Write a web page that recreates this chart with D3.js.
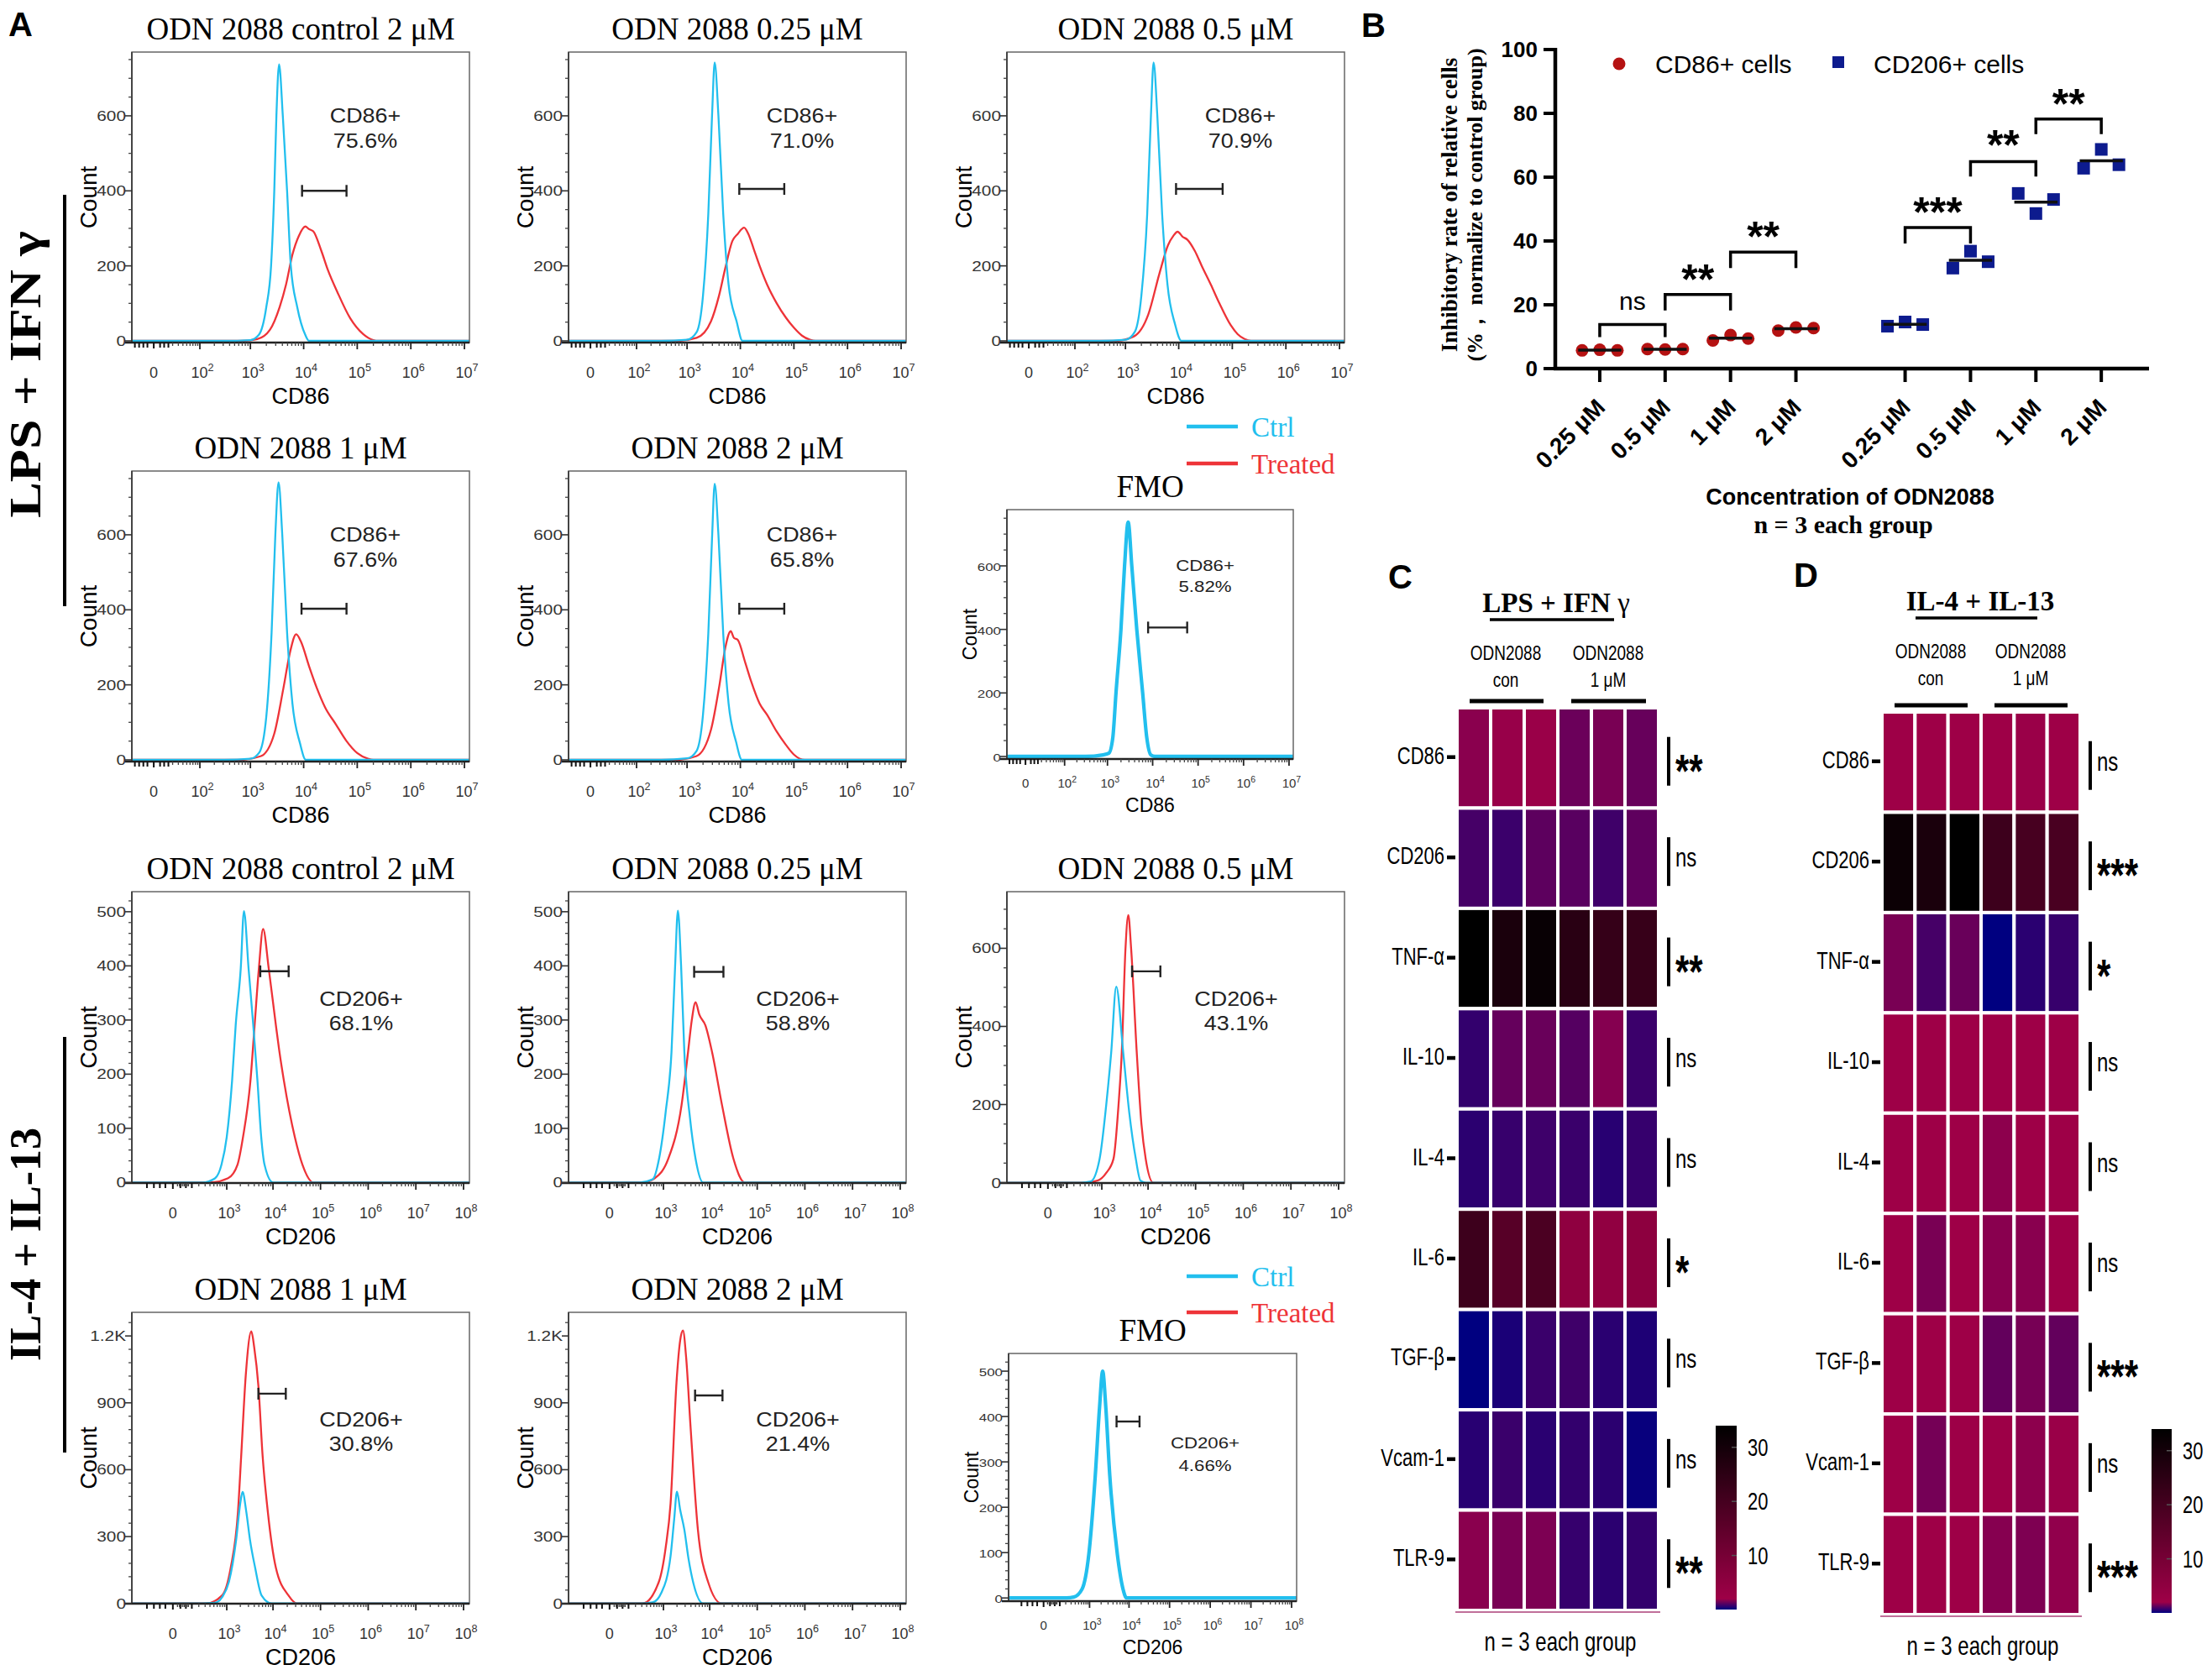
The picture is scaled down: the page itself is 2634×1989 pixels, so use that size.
<!DOCTYPE html>
<html><head><meta charset="utf-8">
<script src="https://cdn.jsdelivr.net/npm/d3@7"></script>
<style>body{margin:0;background:#fff}svg{display:block}</style>
</head><body>
<script>
// ===================== DATA =====================
// Panel A: flow histograms, points = [log10 fluorescence, count]
const ctrl_r1c1 = [[2.5,0],[3.0,2],[3.16,16],[3.3,90],[3.39,200],[3.45,400],[3.49,600],[3.54,737],[3.61,600],[3.69,400],[3.76,200],[3.88,90],[4.03,16],[4.1,0]];
const trt_r1c1  = [[2.8,0],[3.13,5],[3.37,30],[3.55,90],[3.67,150],[3.79,230],[3.91,280],[4.03,305],[4.1,298],[4.18,292],[4.33,240],[4.45,190],[4.63,130],[4.87,60],[5.11,18],[5.3,2],[5.4,0]];
const ctrl_r1c2 = [[2.5,0],[3.0,3],[3.18,23],[3.3,120],[3.4,338],[3.47,600],[3.52,742],[3.59,600],[3.68,338],[3.78,150],[3.93,52],[4.04,0]];
const trt_r1c2  = [[2.8,0],[3.18,8],[3.45,52],[3.6,120],[3.72,195],[3.85,266],[3.95,285],[4.07,302],[4.15,285],[4.25,245],[4.36,200],[4.5,150],[4.68,100],[4.85,62],[5.0,35],[5.15,14],[5.3,3],[5.4,0]];
const ctrl_r1c3 = [[2.5,0],[3.0,3],[3.18,25],[3.3,120],[3.41,338],[3.48,600],[3.53,742],[3.6,600],[3.69,338],[3.79,150],[3.93,45],[4.05,0]];
const trt_r1c3  = [[2.8,0],[3.16,12],[3.43,70],[3.64,180],[3.8,255],[3.9,280],[3.98,291],[4.07,278],[4.16,270],[4.3,240],[4.43,200],[4.6,150],[4.76,100],[4.97,42],[5.1,18],[5.23,5],[5.35,0]];
const ctrl_r2c1 = [[2.5,0],[3.0,3],[3.17,20],[3.3,115],[3.4,340],[3.47,600],[3.53,740],[3.6,600],[3.69,340],[3.79,150],[3.93,45],[4.04,0]];
const trt_r2c1  = [[2.8,0],[3.2,10],[3.45,70],[3.62,190],[3.75,290],[3.86,335],[3.95,315],[4.1,250],[4.25,190],[4.4,140],[4.6,95],[4.8,50],[5.0,18],[5.2,3],[5.3,0]];
const ctrl_r2c2 = [[2.5,0],[3.0,4],[3.18,24],[3.3,120],[3.4,336],[3.47,590],[3.52,736],[3.59,600],[3.68,336],[3.78,150],[3.92,48],[4.03,0]];
const trt_r2c2  = [[2.8,0],[3.18,10],[3.45,80],[3.61,200],[3.72,300],[3.82,343],[3.88,325],[3.95,320],[4.09,260],[4.2,210],[4.36,150],[4.5,120],[4.68,75],[4.85,40],[5.0,14],[5.2,0]];
const fmo_cd86  = [[2.5,0],[2.9,5],[3.03,10],[3.12,60],[3.19,200],[3.3,400],[3.38,600],[3.46,738],[3.54,600],[3.65,400],[3.78,200],[3.87,60],[3.96,5],[4.05,0]];
const ctrl_r3c1 = [[2.4,0],[2.73,8],[2.88,33],[3.0,84],[3.12,188],[3.2,291],[3.31,395],[3.38,501],[3.48,395],[3.58,291],[3.67,188],[3.75,84],[3.82,33],[4.0,0]];
const trt_r3c1  = [[2.6,0],[3.03,8],[3.24,33],[3.36,84],[3.52,188],[3.61,291],[3.7,395],[3.79,468],[3.91,395],[4.06,291],[4.13,245],[4.23,188],[4.46,84],[4.62,33],[4.85,0]];
const ctrl_r3c2 = [[2.4,0],[2.75,6],[2.9,44],[3.05,130],[3.18,241],[3.26,400],[3.32,502],[3.39,400],[3.46,241],[3.58,120],[3.7,44],[3.86,0]];
const trt_r3c2  = [[2.5,0],[2.8,8],[3.11,44],[3.4,143],[3.54,241],[3.62,300],[3.7,333],[3.78,310],[3.91,290],[4.05,241],[4.26,143],[4.5,44],[4.74,0]];
const ctrl_r3c3 = [[2.5,0],[2.74,3],[2.95,61],[3.1,200],[3.21,334],[3.32,502],[3.47,334],[3.6,180],[3.74,61],[3.84,5],[3.95,0]];
const trt_r3c3  = [[2.6,0],[2.9,5],[3.1,25],[3.26,61],[3.37,200],[3.44,334],[3.52,600],[3.58,685],[3.64,600],[3.76,334],[3.86,150],[3.95,61],[4.11,0]];
const ctrl_r4c1 = [[2.4,0],[2.72,3],[2.9,30],[3.05,98],[3.21,286],[3.3,450],[3.35,500],[3.43,412],[3.51,286],[3.62,161],[3.76,35],[3.97,0]];
const trt_r4c1  = [[2.5,0],[2.89,35],[3.09,161],[3.25,412],[3.32,662],[3.42,1026],[3.54,1221],[3.6,1150],[3.69,976],[3.78,662],[3.89,412],[4.06,161],[4.33,35],[4.5,0]];
const ctrl_r4c2 = [[2.4,0],[2.75,5],[2.95,47],[3.16,213],[3.24,380],[3.3,501],[3.37,420],[3.46,331],[3.55,200],[3.65,94],[3.86,0]];
const trt_r4c2  = [[2.5,0],[2.89,94],[3.05,250],[3.16,449],[3.29,992],[3.37,1180],[3.43,1224],[3.5,1100],[3.59,803],[3.75,331],[3.97,94],[4.25,0]];
const fmo_cd206 = [[2.3,0],[2.56,2],[2.8,20],[2.98,96],[3.15,270],[3.26,420],[3.34,500],[3.42,420],[3.52,270],[3.71,96],[3.85,20],[3.94,0]];

const titlesA = ["ODN 2088 control 2 μM","ODN 2088 0.25 μM","ODN 2088 0.5 μM","ODN 2088 1 μM","ODN 2088 2 μM","FMO"];
const pct86  = ["75.6%","71.0%","70.9%","67.6%","65.8%","5.82%"];
const pct206 = ["68.1%","58.8%","43.1%","30.8%","21.4%","4.66%"];
// gates: [log10 low, log10 high, count]
const gates86  = [[3.97,4.80,400],[3.98,4.82,405],[3.95,4.82,405],[3.96,4.80,403],[3.98,4.82,403],[3.90,4.76,406]];
const gates206 = [[3.73,4.33,390],[3.67,4.29,389],[3.66,4.26,541],[3.69,4.27,941],[3.69,4.27,933],[3.69,4.26,389]];
const xTicks86 = [2,3,4,5,6,7];
const xTicks206 = [3,4,5,6,7,8];

// Panel B
const concLabels = ["0.25 μM","0.5 μM","1 μM","2 μM"];
const cd86Rate  = [[5.7,5.9,5.7],[6.1,6.0,6.1],[8.8,10.5,9.4],[11.9,12.9,12.7]];
const cd206Rate = [[13.3,14.6,13.8],[31.5,36.8,33.5],[54.9,48.6,53.0],[62.8,68.7,63.9]];
const bYTicks = [0,20,40,60,80,100];
// brackets: group, from idx, to idx, top, left leg end, right leg end, label, label y
const bBrackets = [
  [0,0,1,13.8,9.9,9.9,"ns",21.0],
  [0,1,2,23.2,18.2,18.2,"**",30.9],
  [0,2,3,36.5,31.5,31.5,"**",44.2],
  [1,0,1,44.2,39.2,39.2,"***",51.9],
  [1,1,2,64.9,60.2,60.2,"**",72.9],
  [1,2,3,78.2,73.5,73.5,"**",85.9]
];

// Panels C & D heatmaps
const genes = ["CD86","CD206","TNF-α","IL-10","IL-4","IL-6","TGF-β","Vcam-1","TLR-9"];
const heatC = [
  [1.75,1.93,1.95,1.35,1.53,1.30],
  [0.88,0.75,1.18,1.13,0.80,1.20],
  [34,28.8,32.4,25.6,23.2,22.9],
  [0.65,1.28,1.33,1.08,1.68,0.75],
  [0.55,0.70,0.78,0.73,0.50,0.68],
  [21.6,16.4,18.8,5.0,4.6,5.4],
  [0,0.33,0.73,0.80,0.53,0.38],
  [0.50,0.73,0.53,0.65,0.55,0.10],
  [1.75,1.53,1.58,0.68,0.55,0.65]
];
const heatD = [
  [2.1,2.0,2.0,2.05,1.95,2.1],
  [31.6,28.8,34,21.6,19.6,19.2],
  [1.53,0.88,1.33,0,0.53,0.70],
  [2.1,2.0,2.0,2.1,2.0,2.05],
  [2.1,2.0,2.1,1.78,2.0,2.05],
  [2.1,1.53,2.0,1.73,1.73,2.0],
  [2.1,2.0,2.0,1.25,1.5,1.25],
  [2.1,1.48,2.2,2.2,1.78,1.95],
  [2.1,2.1,2.1,1.7,1.6,1.83]
];
const sigC = ["**","ns","**","ns","ns","*","ns","ns","**"];
const sigD = ["ns","***","*","ns","ns","ns","***","ns","***"];
const cbarTicks = [10,20,30];

// ===================== DRAWING =====================
const W = 2634, H = 1989;
const SANS = "'Liberation Sans', Arial, Helvetica, sans-serif";
const SERIF = "'Liberation Serif', 'Times New Roman', Times, serif";
const CYAN = "#22bfee", RED = "#ee3338";
const svg = d3.select("body").append("svg").attr("width", W).attr("height", H);
svg.append("rect").attr("width", W).attr("height", H).attr("fill", "#fff");
const defs = svg.append("defs");

function txt(g, x, y, s, o = {}) {
  let tr = `translate(${x},${y})`;
  if (o.rotate) tr += ` rotate(${o.rotate})`;
  if (o.sy || o.sx) tr += ` scale(${o.sx || 1},${o.sy || 1})`;
  return g.append("text").attr("transform", tr)
    .attr("text-anchor", o.anchor || "start")
    .attr("font-family", o.family || SANS)
    .attr("font-size", o.size || 16)
    .attr("font-weight", o.weight || "normal")
    .attr("fill", o.fill || "#000")
    .text(s);
}
function ln(g, x1, y1, x2, y2, stroke, w) {
  return g.append("line").attr("x1", x1).attr("y1", y1).attr("x2", x2).attr("y2", y2)
    .attr("stroke", stroke).attr("stroke-width", w);
}

// ---------- Panel A ----------
const xAxes = {
  cd86:  {c:16, dom:[-25, 1.24e7], ticks:xTicks86, name:"CD86", cluster:[-20,-14,-9,-5,5,9,14]},
  cd206: {c:80, dom:[-500, 1.33e8], ticks:xTicks206, name:"CD206", cluster:[-200,-120,-70,-35,35,70,120]}
};
const yAxes = {
  y86:   {dom:[-4.5,770], major:[0,200,400,600], minor:50},
  fmo86: {dom:[-8,777],   major:[0,200,400,600], minor:50},
  y500:  {dom:[-1,537],   major:[0,100,200,300,400,500], minor:20},
  y700:  {dom:[-1,745],   major:[0,200,400,600], minor:50},
  y1200: {dom:[-1,1306],  major:[0,300,600,900,1200], minor:60},
  fmo206:{dom:[-7,539],   major:[0,100,200,300,400,500], minor:20}
};
const styleMain  = {title:37, tick:16, xtick:18, count:28, xlab:27, ann:23, lw:2.3, tickLY:42, xlabY:73, countX:42};
const styleSmall = {title:37, tick:13, xtick:15, count:23, xlab:23, ann:19, lw:4.2, tickLY:34, xlabY:63, countX:36};
const annLayout = {
  m86:  {dx:278, dy1:84,  dy2:114},
  m206: {dx:273, dy1:136, dy2:165},
  f86:  {dx:236, dy1:73,  dy2:98},
  f206: {dx:234, dy1:113, dy2:140}
};

const histPanels = [
  {box:[157,62,559,408],    title:titlesA[0], axis:"cd86", y:"y86", ctrl:ctrl_r1c1, trt:trt_r1c1, gate:gates86[0], lab:"CD86+", pct:pct86[0], ann:"m86"},
  {box:[677,62,1079,408],   title:titlesA[1], axis:"cd86", y:"y86", ctrl:ctrl_r1c2, trt:trt_r1c2, gate:gates86[1], lab:"CD86+", pct:pct86[1], ann:"m86"},
  {box:[1199,62,1601,408],  title:titlesA[2], axis:"cd86", y:"y86", ctrl:ctrl_r1c3, trt:trt_r1c3, gate:gates86[2], lab:"CD86+", pct:pct86[2], ann:"m86"},
  {box:[157,561,559,907],   title:titlesA[3], axis:"cd86", y:"y86", ctrl:ctrl_r2c1, trt:trt_r2c1, gate:gates86[3], lab:"CD86+", pct:pct86[3], ann:"m86"},
  {box:[677,561,1079,907],  title:titlesA[4], axis:"cd86", y:"y86", ctrl:ctrl_r2c2, trt:trt_r2c2, gate:gates86[4], lab:"CD86+", pct:pct86[4], ann:"m86"},
  {box:[1199,607,1540,904], title:titlesA[5], axis:"cd86", y:"fmo86", ctrl:fmo_cd86, trt:null, gate:gates86[5], lab:"CD86+", pct:pct86[5], ann:"f86", small:true},
  {box:[157,1062,559,1409], title:titlesA[0], axis:"cd206", y:"y500", ctrl:ctrl_r3c1, trt:trt_r3c1, gate:gates206[0], lab:"CD206+", pct:pct206[0], ann:"m206"},
  {box:[677,1062,1079,1409],title:titlesA[1], axis:"cd206", y:"y500", ctrl:ctrl_r3c2, trt:trt_r3c2, gate:gates206[1], lab:"CD206+", pct:pct206[1], ann:"m206"},
  {box:[1199,1062,1601,1409],title:titlesA[2],axis:"cd206", y:"y700", ctrl:ctrl_r3c3, trt:trt_r3c3, gate:gates206[2], lab:"CD206+", pct:pct206[2], ann:"m206"},
  {box:[157,1563,559,1910], title:titlesA[3], axis:"cd206", y:"y1200", ctrl:ctrl_r4c1, trt:trt_r4c1, gate:gates206[3], lab:"CD206+", pct:pct206[3], ann:"m206"},
  {box:[677,1563,1079,1910],title:titlesA[4], axis:"cd206", y:"y1200", ctrl:ctrl_r4c2, trt:trt_r4c2, gate:gates206[4], lab:"CD206+", pct:pct206[4], ann:"m206"},
  {box:[1201,1612,1544,1907],title:titlesA[5],axis:"cd206", y:"fmo206", ctrl:fmo_cd206, trt:null, gate:gates206[5], lab:"CD206+", pct:pct206[5], ann:"f206", small:true}
];

let clipN = 0;
function fmtY(v) { return v >= 1000 ? (v/1000) + "K" : String(v); }

function drawHist(p) {
  const [x0, y0, x1, y1] = p.box;
  const ax = xAxes[p.axis], ya = yAxes[p.y];
  const st = p.small ? styleSmall : styleMain;
  const g = svg.append("g");
  const xs = d3.scaleSymlog().constant(ax.c).domain(ax.dom).range([x0, x1]);
  const ys = d3.scaleLinear().domain(ya.dom).range([y1, y0]);
  const cid = "clip" + (clipN++);
  defs.append("clipPath").attr("id", cid).append("rect")
    .attr("x", x0).attr("y", y0 - 2).attr("width", x1 - x0).attr("height", y1 - y0 + 1);

  const lineGen = d3.line().x(d => xs(d[0])).y(d => ys(d[1])).curve(d3.curveMonotoneX);
  const toPts = arr => [[ax.dom[0], 0], ...arr.map(d => [Math.pow(10, d[0]), d[1]]), [ax.dom[1], 0]];
  if (p.trt) g.append("path").attr("d", lineGen(toPts(p.trt))).attr("clip-path", `url(#${cid})`)
    .attr("fill", "none").attr("stroke", RED).attr("stroke-width", st.lw).attr("stroke-linejoin", "round");
  g.append("path").attr("d", lineGen(toPts(p.ctrl))).attr("clip-path", `url(#${cid})`)
    .attr("fill", "none").attr("stroke", CYAN).attr("stroke-width", st.lw).attr("stroke-linejoin", "round");

  // frame
  g.append("rect").attr("x", x0).attr("y", y0).attr("width", x1 - x0).attr("height", y1 - y0)
    .attr("fill", "none").attr("stroke", "#666").attr("stroke-width", 1.5);
  ln(g, x0, y0, x0, y1, "#444", 2);
  ln(g, x0 - 8, y1, x1, y1, "#222", 2.5);

  // y ticks
  d3.range(0, ya.dom[1], ya.minor).forEach(v => {
    if (!ya.major.includes(v)) ln(g, x0 - 4, ys(v), x0, ys(v), "#444", 1.3);
  });
  ya.major.forEach(v => {
    ln(g, x0 - 8, ys(v), x0, ys(v), "#333", 1.6);
    txt(g, x0 - 7, ys(v) + 6, fmtY(v), {anchor:"end", size:st.tick, fill:"#333", sx:1.3});
  });

  // x ticks
  ax.cluster.forEach(v => ln(g, xs(v), y1, xs(v), y1 + 6, "#111", 2));
  ln(g, xs(0), y1, xs(0), y1 + 7, "#111", 2);
  for (let k = 1; k <= ax.ticks[ax.ticks.length - 1]; k++) {
    for (let m = 2; m <= 9; m++) {
      const v = m * Math.pow(10, k);
      if (v < ax.dom[1]) ln(g, xs(v), y1, xs(v), y1 + 4, "#444", 1.3);
    }
  }
  txt(g, xs(0), y1 + st.tickLY, "0", {anchor:"middle", size:st.xtick, fill:"#333"});
  ax.ticks.forEach(k => {
    const v = Math.pow(10, k);
    ln(g, xs(v), y1, xs(v), y1 + 8, "#222", 1.8);
    const t = g.append("text").attr("x", xs(v) + 3).attr("y", y1 + st.tickLY)
      .attr("text-anchor", "middle").attr("font-family", SANS).attr("font-size", st.xtick).attr("fill", "#333");
    t.append("tspan").text("10");
    t.append("tspan").attr("dy", "-0.6em").attr("font-size", "0.7em").text(k);
  });

  // gate
  const gy = ys(p.gate[2]), gx0 = xs(Math.pow(10, p.gate[0])), gx1 = xs(Math.pow(10, p.gate[1]));
  ln(g, gx0, gy, gx1, gy, "#222", 2.4);
  ln(g, gx0, gy - 7, gx0, gy + 7, "#222", 2.4);
  ln(g, gx1, gy - 7, gx1, gy + 7, "#222", 2.4);

  // annotation
  const a = annLayout[p.ann];
  txt(g, x0 + a.dx, y0 + a.dy1, p.lab, {anchor:"middle", size:st.ann, fill:"#222", sx:1.17});
  txt(g, x0 + a.dx, y0 + a.dy2, p.pct, {anchor:"middle", size:st.ann, fill:"#222", sx:1.17});

  // labels
  txt(g, (x0 + x1) / 2, y0 - 15, p.title, {anchor:"middle", size:st.title, family:SERIF});
  txt(g, x0 - st.countX, (y0 + y1) / 2, "Count", {anchor:"middle", size:st.count, rotate:-90});
  txt(g, (x0 + x1) / 2, y1 + st.xlabY, ax.name, {anchor:"middle", size:st.xlab});
}
histPanels.forEach(drawHist);

// legends for panel A
[[508, 552], [1520, 1563]].forEach(([yc, yt]) => {
  const g = svg.append("g");
  ln(g, 1413, yc, 1474, yc, CYAN, 4.5);
  txt(g, 1490, yc + 12, "Ctrl", {size:33, family:SERIF, fill:CYAN});
  ln(g, 1413, yt, 1474, yt, RED, 4.5);
  txt(g, 1490, yt + 12, "Treated", {size:33, family:SERIF, fill:RED});
});

// side labels
const gs = svg.append("g");
txt(gs, 48, 446, "LPS + IFN γ", {anchor:"middle", size:52, weight:"bold", family:SERIF, rotate:-90, sx:1.23});
ln(gs, 77, 232, 77, 722, "#000", 4);
txt(gs, 48, 1482, "IL-4 + IL-13", {anchor:"middle", size:52, weight:"bold", family:SERIF, rotate:-90});
ln(gs, 77, 1235, 77, 1730, "#000", 4);

// panel letters
txt(svg, 10, 43, "A", {size:40, weight:"bold"});
txt(svg, 1621, 44, "B", {size:40, weight:"bold"});
txt(svg, 1653, 701, "C", {size:40, weight:"bold"});
txt(svg, 2136, 699, "D", {size:40, weight:"bold"});

// ---------- Panel B ----------
(function () {
  const g = svg.append("g");
  const bY = d3.scaleLinear().domain([0, 100]).range([439, 59]);
  const bX = d3.scaleLinear().domain([-0.68, 8.40]).range([1852, 2559]);
  const groupOffset = 4.67;
  const pos = (grp, i) => bX(grp * groupOffset + i);

  // axes
  ln(g, 1852, bY(0) + 2, 1852, bY(100) - 2, "#000", 4.5);
  ln(g, 1850, bY(0), 2559, bY(0), "#000", 4.5);
  bYTicks.forEach(v => {
    ln(g, 1838, bY(v), 1852, bY(v), "#000", 4);
    txt(g, 1831, bY(v) + 9, v, {anchor:"end", size:26, weight:"bold"});
  });
  [0, 1].forEach(grp => concLabels.forEach((c, i) => {
    const x = pos(grp, i);
    ln(g, x, bY(0), x, bY(0) + 16, "#000", 4);
    txt(g, x + 8, bY(0) + 48, c, {anchor:"end", size:28, weight:"bold", rotate:-45});
  }));

  // data
  const jit = [-0.27, 0, 0.27];
  cd86Rate.forEach((vals, i) => {
    vals.forEach((v, j) => g.append("circle").attr("cx", pos(0, i + jit[j])).attr("cy", bY(v)).attr("r", 7.5).attr("fill", "#b51212"));
    const m = d3.mean(vals);
    ln(g, pos(0, i - 0.33), bY(m), pos(0, i + 0.33), bY(m), "#111", 3.5);
  });
  cd206Rate.forEach((vals, i) => {
    vals.forEach((v, j) => g.append("rect").attr("x", pos(1, i + jit[j]) - 7.5).attr("y", bY(v) - 7.5).attr("width", 15).attr("height", 15).attr("fill", "#0d1b8e"));
    const m = d3.mean(vals);
    ln(g, pos(1, i - 0.33), bY(m), pos(1, i + 0.33), bY(m), "#111", 3.5);
  });

  // brackets
  bBrackets.forEach(([grp, a, b, top, la, lb, lab, ly]) => {
    const xa = pos(grp, a), xb = pos(grp, b);
    g.append("path").attr("d", `M${xa},${bY(la)}L${xa},${bY(top)}L${xb},${bY(top)}L${xb},${bY(lb)}`)
      .attr("fill", "none").attr("stroke", "#000").attr("stroke-width", 3.5);
    if (lab === "ns") txt(g, (xa + xb) / 2, bY(ly) + 10, lab, {anchor:"middle", size:30});
    else txt(g, (xa + xb) / 2, bY(ly) + 28, lab, {anchor:"middle", size:50, weight:"bold"});
  });

  // legend
  g.append("circle").attr("cx", 1928).attr("cy", 76).attr("r", 7.5).attr("fill", "#b51212");
  txt(g, 1971, 87, "CD86+ cells", {size:30});
  g.append("rect").attr("x", 2182).attr("y", 67).attr("width", 14).attr("height", 14).attr("fill", "#0d1b8e");
  txt(g, 2231, 87, "CD206+ cells", {size:30});

  // titles
  txt(g, 1735, 244, "Inhibitory rate of  relative cells", {anchor:"middle", size:27, weight:"bold", family:SERIF, rotate:-90});
  txt(g, 1765, 244, "(%， normalize to control group)", {anchor:"middle", size:26, weight:"bold", family:SERIF, rotate:-90});
  txt(g, 2203, 601, "Concentration of ODN2088", {anchor:"middle", size:27, weight:"bold"});
  txt(g, 2195, 635, "n = 3 each group", {anchor:"middle", size:30, weight:"bold", family:SERIF});
})();

// ---------- Panels C & D ----------
const heatColor = d3.scaleLinear().domain([0, 2, 34]).range(["#000080", "#9e0047", "#000000"]).clamp(true);
const SY = 1.3;

function drawHeat(cfg, vals, sigs) {
  const g = svg.append("g");
  const xb = d3.scaleBand().domain(d3.range(6)).range([cfg.x0, cfg.x1]);
  const yb = d3.scaleBand().domain(genes).range([cfg.y0, cfg.y1]);
  genes.forEach((gn, i) => {
    vals[i].forEach((v, j) => {
      g.append("rect").attr("x", xb(j)).attr("y", yb(gn)).attr("width", xb.bandwidth()).attr("height", yb.bandwidth())
        .attr("fill", heatColor(v)).attr("stroke", "#fff").attr("stroke-width", 4);
    });
    const cy = yb(gn) + yb.bandwidth() / 2;
    txt(g, cfg.x0 - 15, cy + 7, gn, {anchor:"end", size:22, sy:SY});
    ln(g, cfg.x0 - 12, cy - 1, cfg.x0 - 2, cy - 1, "#000", 4.5);
    ln(g, cfg.sigX, cy - 25, cfg.sigX, cy + 33, "#000", 4);
    if (sigs[i] === "ns") txt(g, cfg.sigX + 8, cy + 10, "ns", {size:24, sy:SY});
    else txt(g, cfg.sigX + 8, cy + 34, sigs[i], {size:42, weight:"bold", sy:SY});
  });
  ln(g, cfg.x0 - 2, cfg.y1 + 2, cfg.x1 + 2, cfg.y1 + 2, "#c0709a", 2);

  // title
  const tt = g.append("text").attr("x", cfg.tcx).attr("y", cfg.tby).attr("text-anchor", "middle")
    .attr("font-family", SERIF).attr("font-size", 33);
  tt.append("tspan").attr("font-weight", "bold").text(cfg.title);
  if (cfg.suffix) tt.append("tspan").text(cfg.suffix);
  ln(g, cfg.ul[0], cfg.tby + 9, cfg.ul[1], cfg.tby + 9, "#000", 3.5);

  // column headers
  [[cfg.h1, "con"], [cfg.h2, "1 μM"]].forEach(([hc, sub], k) => {
    txt(g, hc, cfg.tby + 57, "ODN2088", {anchor:"middle", size:19, sy:SY});
    txt(g, hc, cfg.tby + 89, sub, {anchor:"middle", size:19, sy:SY});
    ln(g, cfg.bars[k][0], cfg.barY, cfg.bars[k][1], cfg.barY, "#000", 5);
  });

  // footer
  txt(g, cfg.fcx, cfg.y1 + 48, "n = 3 each group", {anchor:"middle", size:24, sy:SY});

  // colorbar
  const id = "grad" + cfg.id;
  const lg = defs.append("linearGradient").attr("id", id).attr("x1", 0).attr("y1", 1).attr("x2", 0).attr("y2", 0);
  d3.range(0, 34.001, 0.25).forEach(v => lg.append("stop").attr("offset", v / 34).attr("stop-color", heatColor(v)));
  const cb = d3.scaleLinear().domain([0, 34]).range([cfg.cb[3], cfg.cb[1]]);
  g.append("rect").attr("x", cfg.cb[0]).attr("y", cfg.cb[1]).attr("width", cfg.cb[2] - cfg.cb[0])
    .attr("height", cfg.cb[3] - cfg.cb[1]).attr("fill", `url(#${id})`);
  cbarTicks.forEach(t => {
    ln(g, cfg.cb[2] - 6, cb(t), cfg.cb[2], cb(t), "#555", 1.5);
    txt(g, cfg.cb[2] + 13, cb(t) + 10, t, {size:22, sy:SY});
  });
}

drawHeat({id:"C", x0:1735, x1:1975, y0:843, y1:1918, sigX:1987, title:"LPS + IFN", suffix:" γ",
  tcx:1853, tby:729, ul:[1774,1922], h1:1793, h2:1915, barY:835, bars:[[1750,1838],[1871,1960]],
  fcx:1858, cb:[2043,1698,2068,1917]}, heatC, sigC);
drawHeat({id:"D", x0:2241, x1:2477, y0:848, y1:1923, sigX:2489, title:"IL-4 + IL-13", suffix:"",
  tcx:2358, tby:727, ul:[2281,2426], h1:2299, h2:2418, barY:840, bars:[[2256,2343],[2375,2462]],
  fcx:2361, cb:[2562,1702,2586,1921]}, heatD, sigD);
</script>
</body></html>
